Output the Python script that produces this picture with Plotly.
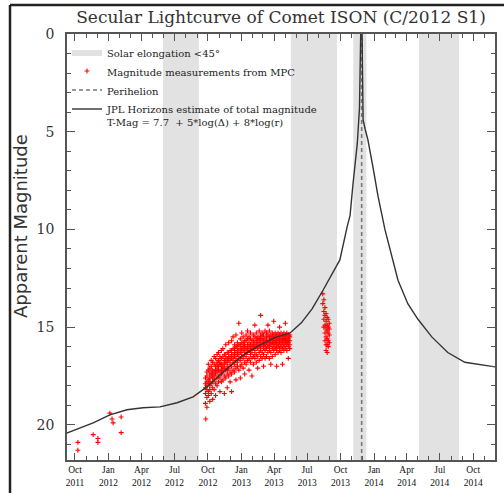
import plotly.graph_objects as go

# ---------------- data ----------------
# Solar elongation < 45 deg intervals
elong_start = ["2012-05-30", "2013-05-17", "2013-11-05", "2014-05-05"]
elong_end = ["2012-09-06", "2013-09-21", "2013-12-11", "2014-08-23"]

perihelion = "2013-11-28"

# JPL Horizons total magnitude estimate
curve_dates = ["2011-09-01", "2011-11-20", "2012-01-05", "2012-02-21", "2012-04-05",
               "2012-05-22", "2012-07-08", "2012-08-21", "2012-09-28", "2012-11-03",
               "2012-12-09", "2013-01-10", "2013-02-13", "2013-04-01", "2013-05-15",
               "2013-06-15", "2013-07-15", "2013-08-14", "2013-09-01", "2013-09-29",
               "2013-10-19", "2013-10-27", "2013-11-04", "2013-11-10", "2013-11-16",
               "2013-11-22", "2013-11-26", "2013-11-28", "2013-11-30", "2013-12-02",
               "2013-12-08", "2013-12-15", "2013-12-29", "2014-01-12", "2014-01-31",
               "2014-02-19", "2014-03-08", "2014-04-04", "2014-05-02", "2014-06-09",
               "2014-07-23", "2014-09-08", "2014-11-22", "2014-12-05"]
curve_mags = [20.48, 19.90, 19.49, 19.23, 19.13,
              19.08, 18.87, 18.57, 18.06, 17.44,
              16.85, 16.38, 16.00, 15.55, 15.30,
              14.78, 14.05, 13.10, 12.50, 11.56,
              9.87, 9.30, 7.70, 6.75, 5.60,
              3.80, 1.00, -3.00, 1.50, 4.40,
              4.90, 5.40, 6.80, 8.30, 10.00,
              11.40, 12.60, 13.80, 14.60, 15.50,
              16.30, 16.80, 17.00, 17.05]

# MPC magnitude measurements (one list of magnitudes per observation date)
obs_dates = [
    "2011-10-09", "2011-11-20", "2011-12-03", "2012-01-05", "2012-01-11", "2012-01-14",
    "2012-02-05", "2012-09-25",
    "2012-09-24", "2012-09-28", "2012-10-02", "2012-10-06", "2012-10-10", "2012-10-14",
    "2012-10-18", "2012-10-22", "2012-10-26", "2012-10-30", "2012-11-03", "2012-11-07",
    "2012-11-11", "2012-11-15", "2012-11-19", "2012-11-23", "2012-11-27", "2012-12-01",
    "2012-12-05", "2012-12-09", "2012-12-13", "2012-12-17", "2012-12-21", "2012-12-25",
    "2012-12-29", "2013-01-02", "2013-01-06", "2013-01-10", "2013-01-14", "2013-01-18",
    "2013-01-22", "2013-01-26", "2013-01-30", "2013-02-03", "2013-02-07", "2013-02-11",
    "2013-02-15", "2013-02-19", "2013-02-23", "2013-02-27", "2013-03-03", "2013-03-07",
    "2013-03-11", "2013-03-15", "2013-03-19", "2013-03-23", "2013-03-27", "2013-03-31",
    "2013-04-04", "2013-04-08", "2013-04-12", "2013-04-16", "2013-04-20", "2013-04-24",
    "2013-04-28", "2013-05-02", "2013-05-06", "2013-05-10", "2013-05-14",
    "2013-08-13", "2013-08-16", "2013-08-19", "2013-08-22", "2013-08-25", "2013-08-28",
    "2013-08-31",
]
obs_mags = [
    [20.9, 21.3], [20.5], [20.7, 20.9], [19.4], [19.7], [19.9],
    [19.6, 20.4], [19.7],
    [17.6, 18.1, 18.9, 17.9, 18.4], [17.3, 17.8, 18.2, 18.6, 19.1, 17.5, 18.0],
    [17.2, 17.7, 18.3, 17.9, 18.5, 16.9], [17.4, 17.6, 18.0, 18.8, 17.1, 17.8, 18.2],
    [17.0, 17.5, 17.9, 18.4, 16.7, 17.3], [17.2, 17.6, 18.1, 16.8, 17.4, 18.7, 17.8],
    [16.9, 17.3, 17.7, 18.2, 16.5, 17.5], [17.0, 17.4, 17.9, 16.6, 17.2, 18.5],
    [16.8, 17.1, 17.6, 18.0, 16.4, 17.3, 16.9], [16.7, 17.0, 17.5, 16.3, 17.8, 17.2],
    [16.9, 17.3, 16.5, 17.6, 18.3, 16.8], [16.6, 17.0, 17.4, 16.2, 17.8, 16.9, 17.2],
    [16.5, 16.9, 17.3, 17.7, 16.1, 17.1], [16.7, 17.1, 16.4, 17.5, 18.4, 16.9],
    [16.4, 16.8, 17.2, 15.9, 17.6, 16.6], [16.6, 17.0, 16.3, 17.4, 16.8, 18.1, 17.2],
    [16.3, 16.7, 17.1, 15.8, 17.5, 16.5], [16.5, 16.9, 16.2, 17.3, 16.7, 17.8],
    [16.2, 16.6, 17.0, 15.7, 17.4, 16.4, 18.3], [16.4, 16.8, 16.1, 17.2, 16.6, 15.5],
    [16.1, 16.5, 16.9, 15.9, 17.3, 16.3], [16.3, 16.7, 16.0, 17.1, 16.5, 17.7, 15.4],
    [16.0, 16.4, 16.8, 15.8, 17.0, 16.2], [16.2, 16.6, 15.9, 17.2, 16.4, 14.8],
    [15.9, 16.3, 16.7, 15.6, 17.0, 16.1, 17.6], [16.1, 16.5, 15.8, 16.9, 16.3, 15.3],
    [15.8, 16.2, 16.6, 15.5, 17.1, 16.0], [16.0, 16.4, 15.7, 16.8, 16.2, 17.4, 15.9],
    [15.7, 16.1, 16.5, 15.4, 16.9, 16.3], [15.9, 16.3, 15.6, 16.7, 16.1, 15.2],
    [15.8, 16.2, 16.6, 15.5, 17.2, 16.0], [15.6, 16.0, 16.4, 15.3, 16.8, 15.9, 16.2],
    [15.9, 16.3, 15.7, 16.6, 16.1, 17.5], [15.7, 16.1, 16.5, 15.4, 16.9, 15.9],
    [15.8, 16.2, 15.5, 16.6, 16.0, 14.9, 16.4], [15.6, 16.0, 16.4, 15.3, 16.8, 15.8],
    [15.7, 16.1, 15.5, 16.5, 15.9, 17.1], [15.6, 16.0, 16.3, 15.2, 16.7, 15.8],
    [15.8, 16.2, 15.4, 16.5, 16.0, 14.4, 15.6], [15.5, 15.9, 16.3, 15.3, 16.6, 15.7],
    [15.7, 16.1, 15.4, 16.4, 15.9, 17.0], [15.6, 15.9, 16.2, 15.2, 16.6, 15.8, 16.0],
    [15.5, 15.8, 16.1, 15.3, 16.5, 15.7], [15.7, 16.0, 15.4, 16.3, 15.9, 14.9],
    [15.5, 15.8, 16.2, 15.2, 16.6, 15.7, 16.0], [15.6, 15.9, 15.4, 16.3, 15.8, 16.9],
    [15.5, 15.8, 16.1, 15.3, 16.5, 15.7], [15.6, 15.9, 15.4, 16.2, 15.8, 14.7, 16.0],
    [15.5, 15.8, 16.1, 15.3, 16.4, 15.7], [15.6, 15.9, 15.4, 16.2, 15.8, 16.0, 17.0],
    [15.5, 15.7, 16.0, 15.3, 16.3, 15.9], [15.6, 15.8, 15.4, 16.1, 15.7, 16.2, 15.0],
    [15.5, 15.7, 16.0, 15.3, 16.3, 15.9], [15.6, 15.8, 15.4, 16.1, 15.7, 16.9],
    [15.5, 15.7, 16.0, 15.3, 16.2, 15.9, 15.6], [15.6, 15.8, 15.4, 16.1, 15.7, 14.8],
    [15.5, 15.7, 15.9, 15.3, 16.2, 15.8], [15.6, 15.8, 15.4, 16.0, 15.7, 16.6],
    [15.5, 15.7, 15.9, 15.4, 16.1],
    [13.3, 13.8], [13.6, 14.2, 14.6, 15.0], [14.0, 14.4, 14.9, 15.3, 15.7],
    [14.3, 14.7, 15.1, 15.5, 15.9, 16.2], [14.5, 14.9, 15.2, 15.6, 15.9, 16.3],
    [14.6, 15.0, 15.3, 15.7, 16.0], [14.8, 15.1, 15.4, 15.8],
]

y_tick_vals = [0, 5, 10, 15, 20]
x_range = ["2011-09-09", "2014-11-30"]
y_range = [21.8, 0]

# ---------------- figure ----------------
W, H = 504, 493
ML, MR, MT, MB = 67, 9, 34, 33

band_x, band_y = [], []
for s, e in zip(elong_start, elong_end):
    band_x += [s, s, e, e, s, None]
    band_y += [y_range[0], y_range[1], y_range[1], y_range[0], y_range[0], None]

pts_x, pts_y = [], []
for d, mags in zip(obs_dates, obs_mags):
    for m in mags:
        pts_x.append(d)
        pts_y.append(m)

fig = go.Figure()
fig.add_trace(go.Scatter(x=band_x, y=band_y, mode="lines", fill="toself",
                         fillcolor="#e2e2e2", line=dict(width=0, color="#e2e2e2"),
                         name="Solar elongation <45°", hoverinfo="skip"))
fig.add_trace(go.Scatter(x=pts_x, y=pts_y, mode="markers",
                         marker=dict(color="red", size=3.5, symbol="cross-thin",
                                     line=dict(width=1.1, color="red")),
                         name="Magnitude measurements from MPC"))
fig.add_trace(go.Scatter(x=[perihelion, perihelion], y=[y_range[0], y_range[1]], mode="lines",
                         line=dict(color="#777777", width=1.6, dash="4px,3px"),
                         name="Perihelion"))
fig.add_trace(go.Scatter(x=curve_dates, y=curve_mags, mode="lines",
                         line=dict(color="#333333", width=1.4),
                         name="JPL Horizons estimate of total magnitude<br>T-Mag = 7.7\u00a0\u00a0+ 5*log(\u0394) + 8*log(r)"))

def px_x(p):
    return (p - ML) / (W - ML - MR)

def px_y(p):
    return 1 - (p - MT) / (H - MT - MB)

fig.update_layout(
    width=W, height=H,
    margin=dict(l=ML, r=MR, t=MT, b=MB, autoexpand=False),
    paper_bgcolor="white", plot_bgcolor="white",
    title=dict(text="Secular Lightcurve of Comet ISON (C/2012 S1)",
               x=0.5, xref="paper", y=1 - 17 / H, yref="container",
               xanchor="center", yanchor="middle",
               font=dict(family="DejaVu Serif", size=17, color="#333333")),
    legend=dict(x=px_x(67), y=px_y(39), xanchor="left", yanchor="top",
                bgcolor="rgba(0,0,0,0)", borderwidth=0, valign="top",
                font=dict(family="DejaVu Serif", size=10, color="#222222"),
                tracegroupgap=0),
    showlegend=True,
)

fig.update_xaxes(
    type="date", range=x_range,
    dtick="M3", tick0="2011-10-01", tickformat="%b<br>%Y",
    ticks="inside", ticklen=7, tickwidth=1.2, tickcolor="#555555",
    minor=dict(dtick="M1", ticks="inside", ticklen=4, tickwidth=1, tickcolor="#555555"),
    showline=True, linecolor="#555555", linewidth=1.5, mirror="allticks",
    showgrid=False, zeroline=False, automargin=False,
    tickfont=dict(family="Liberation Serif", size=9.5, color="#111111"),
)
fig.update_yaxes(
    range=y_range, tickvals=y_tick_vals,
    ticks="inside", ticklen=8, tickwidth=1.2, tickcolor="#555555",
    minor=dict(dtick=1, tick0=0, ticks="inside", ticklen=4, tickwidth=1, tickcolor="#555555"),
    showline=True, linecolor="#555555", linewidth=1.5, mirror="allticks",
    showgrid=False, zeroline=False, automargin=False, ticklabelstandoff=8,
    tickfont=dict(family="DejaVu Serif", size=14, color="#333333"),
)

fig.add_annotation(text="Apparent Magnitude", x=px_x(20), y=px_y(226),
                   xref="paper", yref="paper", showarrow=False, textangle=-90,
                   xanchor="center", yanchor="middle",
                   font=dict(family="DejaVu Sans", size=18, color="#333333"))

# outer frame lines of the picture
fig.add_shape(type="line", xref="paper", yref="paper",
              x0=px_x(10), x1=px_x(504), y0=px_y(5), y1=px_y(5),
              line=dict(color="#222222", width=2.5))
fig.add_shape(type="line", xref="paper", yref="paper",
              x0=px_x(10), x1=px_x(10), y0=px_y(5), y1=px_y(493),
              line=dict(color="#222222", width=2.5))

fig.write_html("out.html", config={"displayModeBar": False},
               post_script="document.body.style.margin='0';document.body.style.padding='0';")
